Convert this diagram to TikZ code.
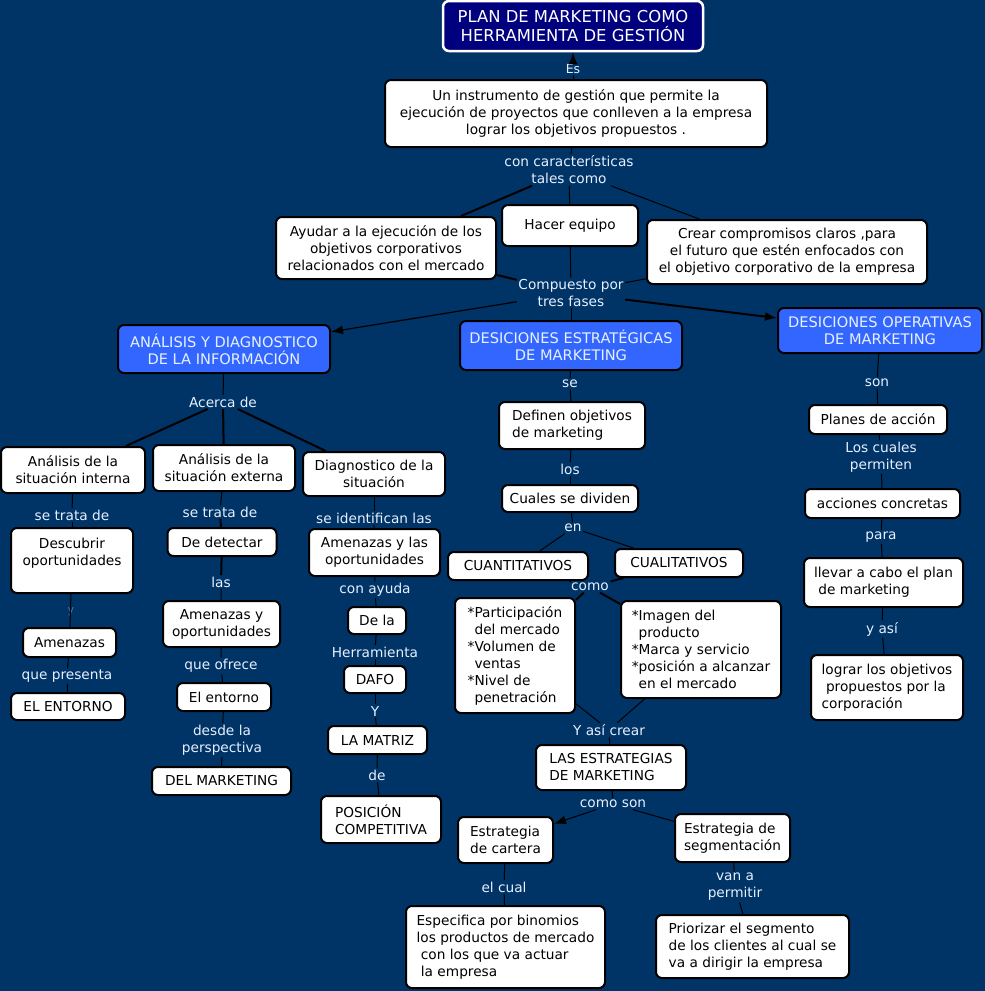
\documentclass[tikz,border=0pt]{standalone}
\usepackage{fontspec}
\setmainfont{DejaVu Sans}
\usetikzlibrary{arrows.meta}
\definecolor{fondo}{HTML}{003366}
\definecolor{azultitulo}{HTML}{00007F}
\definecolor{azulfase}{HTML}{3366FF}
\definecolor{textoclaro}{HTML}{E6F0FF}
\definecolor{tenue}{HTML}{5474A4}
\tikzset{
	concepto/.style={draw=black, line width=2pt, fill=white, rounded corners=6pt, align=center, inner sep=3pt, font=\fontsize{13.7}{17}\selectfont},
	izq/.style={align=left},
	fase/.style={concepto, fill=azulfase, text=textoclaro, font=\fontsize{14.6}{17}\selectfont},
	titulo/.style={concepto, fill=azultitulo, draw=white, line width=2.5pt, text=white, font=\fontsize{16.4}{19}\selectfont},
	enlace/.style={text=textoclaro, align=center, inner sep=1.5pt, font=\fontsize{13.7}{17}\selectfont},
	linea/.style={draw=black, line width=1pt},
	gruesa/.style={draw=black, line width=2pt},
	flecha/.style={-{Latex[length=12pt,width=9pt]}}
}
\begin{document}
\begin{tikzpicture}[x=1pt,y=-1pt]
	\fill [fondo] (0,0) rectangle (985,991);
	\useasboundingbox (0,0) rectangle (985,991);

	\node (plan) [titulo, minimum width=260, minimum height=50] at (573,26) {PLAN DE MARKETING COMO\\HERRAMIENTA DE GESTIÓN};
	\node (es) [enlace, font=\fontsize{12.5}{15}\selectfont] at (573,69) {Es};
	\node (instr) [concepto, minimum width=382, minimum height=67] at (576,113.5) {Un instrumento de gestión que permite la\\ejecución de proyectos que conlleven a la empresa\\lograr los objetivos propuestos .};
	\node (caract) [enlace] at (569,170) {con características\\tales como};
	\node (ayudar) [concepto, minimum width=220, minimum height=62] at (386,248) {Ayudar a la ejecución de los\\objetivos corporativos\\relacionados con el mercado};
	\node (hacer) [concepto, minimum width=136, minimum height=41] at (570,225.5) {Hacer equipo};
	\node (crear) [concepto, minimum width=280, minimum height=64] at (787,252) {Crear compromisos claros ,para\\el futuro que estén enfocados con\\el objetivo corporativo de la empresa};
	\node (compuesto) [enlace] at (571,293) {Compuesto por\\tres fases};

	\node (analisis) [fase, minimum width=212, minimum height=48] at (224,349) {ANÁLISIS Y DIAGNOSTICO\\DE LA INFORMACIÓN};
	\node (estrat) [fase, minimum width=222, minimum height=49] at (571,345.5) {DESICIONES ESTRATÉGICAS\\DE MARKETING};
	\node (operat) [fase, minimum width=204, minimum height=45] at (880,330.5) {DESICIONES OPERATIVAS\\DE MARKETING};

	% analisis y diagnostico
	\node (acerca) [enlace] at (223,402) {Acerca de};
	\node (interna) [concepto, minimum width=144, minimum height=46] at (73,470) {Análisis de la\\situación interna};
	\node (externa) [concepto, minimum width=142, minimum height=46] at (224,468) {Análisis de la\\situación externa};
	\node (diag) [concepto, minimum width=142, minimum height=44] at (374,474) {Diagnostico de la\\situación};

	\node (tratai) [enlace] at (72,515) {se trata de};
	\node (descubrir) [concepto, minimum width=122, minimum height=65] at (72,560.5) {Descubrir\\oportunidades\\\mbox{}};
	\node (yi) [enlace, text=tenue, font=\fontsize{11}{13}\selectfont] at (71,612) {y};
	\node (amenazas) [concepto, minimum width=93, minimum height=29] at (69.5,642.5) {Amenazas};
	\node (presenta) [enlace] at (67,676) {que presenta};
	\node (entornoi) [concepto, minimum width=114, minimum height=27] at (68,706.5) {EL ENTORNO};

	\node (tratae) [enlace] at (220,512) {se trata de};
	\node (detectar) [concepto, minimum width=109, minimum height=28] at (222,542) {De detectar};
	\node (las) [enlace] at (221,582) {las};
	\node (amenop) [concepto, minimum width=117, minimum height=46] at (221.5,624) {Amenazas y\\oportunidades};
	\node (ofrece) [enlace] at (221,666) {que ofrece};
	\node (entornoe) [concepto, minimum width=94, minimum height=28] at (224,697) {El entorno};
	\node (perspectiva) [enlace] at (222,740) {desde la\\perspectiva};
	\node (delmkt) [concepto, minimum width=139, minimum height=28] at (221.5,781) {DEL MARKETING};

	\node (identifican) [enlace] at (374,518) {se identifican las};
	\node (amenlas) [concepto, minimum width=131, minimum height=47] at (374.5,552.5) {Amenazas y las\\oportunidades};
	\node (ayuda) [enlace] at (375,590) {con ayuda};
	\node (dela) [concepto, minimum width=58, minimum height=27] at (377,620.5) {De la};
	\node (herramienta) [enlace] at (375,652) {Herramienta};
	\node (dafo) [concepto, minimum width=62, minimum height=27] at (375,679.5) {DAFO};
	\node (yd) [enlace] at (375,711) {Y};
	\node (matriz) [concepto, minimum width=99, minimum height=28] at (377.5,740) {LA MATRIZ};
	\node (de) [enlace] at (377,775) {de};
	\node (posicion) [concepto, izq, minimum width=120, minimum height=47] at (381,819.5) {POSICIÓN\\COMPETITIVA};

	% estrategicas
	\node (se) [enlace] at (570,384) {se};
	\node (definen) [concepto, izq, minimum width=146, minimum height=47] at (572,425.5) {Definen objetivos\\de marketing};
	\node (los) [enlace] at (570,469) {los};
	\node (dividen) [concepto, minimum width=136, minimum height=27] at (570,498.5) {Cuales se dividen};
	\node (en) [enlace] at (573,528) {en};
	\node (cuanti) [concepto, minimum width=140, minimum height=28] at (518,566) {CUANTITATIVOS};
	\node (cuali) [concepto, minimum width=128, minimum height=28] at (679,563) {CUALITATIVOS};
	\node (como) [enlace] at (590,587) {como};
	\node (particip) [concepto, izq, minimum width=120, minimum height=115] at (515,655.5) {*Participación\\\phantom{*}del mercado\\*Volumen de\\\phantom{*}ventas\\*Nivel de\\\phantom{*}penetración};
	\node (imagen) [concepto, izq, minimum width=160, minimum height=97] at (701,649.5) {*Imagen del\\\phantom{*}producto\\*Marca y servicio\\*posición a alcanzar\\\phantom{*}en el mercado};
	\node (asicrear) [enlace] at (609,730) {Y así crear};
	\node (estrategias) [concepto, izq, minimum width=150, minimum height=45] at (611,767.5) {LAS ESTRATEGIAS\\DE MARKETING};
	\node (comoson) [enlace] at (613,804) {como son};
	\node (cartera) [concepto, izq, minimum width=95, minimum height=46] at (505.5,840) {Estrategia\\de cartera};
	\node (segment) [concepto, izq, minimum width=115, minimum height=48] at (732.5,838) {Estrategia de\\segmentación};
	\node (elcual) [enlace] at (504,887) {el cual};
	\node (especifica) [concepto, izq, minimum width=199, minimum height=82] at (505.5,947) {Especifica por binomios\\los productos de mercado\\\ con los que va actuar\\\ la empresa};
	\node (vana) [enlace] at (735,887) {van a\\permitir};
	\node (priorizar) [concepto, izq, minimum width=193, minimum height=63] at (752.5,946.5) {Priorizar el segmento\\de los clientes al cual se\\va a dirigir la empresa};

	% operativas
	\node (son) [enlace] at (877,383) {son};
	\node (planes) [concepto, minimum width=138, minimum height=29] at (878,419.5) {Planes de acción};
	\node (loscuales) [enlace] at (881,457) {Los cuales\\permiten};
	\node (acciones) [concepto, minimum width=155, minimum height=29] at (882.5,503.5) {acciones concretas};
	\node (para) [enlace] at (881,537) {para};
	\node (llevar) [concepto, izq, minimum width=159, minimum height=49] at (883.5,582.5) {llevar a cabo el plan\\\ de marketing};
	\node (yasi) [enlace] at (882,629) {y así};
	\node (lograr) [concepto, izq, minimum width=152, minimum height=65] at (887,687.5) {lograr los objetivos\\\ propuestos por la\\corporación};

	\draw [linea] (instr) to (es);
	\draw [linea, flecha] (es) to (plan);
	\draw [linea] (instr) to (caract);
	\draw [gruesa] (caract) to (ayudar);
	\draw [linea] (caract) to (hacer);
	\draw [linea] (caract) to (crear);
	\draw [gruesa] (ayudar) to (compuesto);
	\draw [linea] (hacer) to (compuesto);
	\draw [linea] (crear) to (compuesto);
	\draw [linea, line width=1.2pt, flecha] (compuesto) to (analisis);
	\draw [linea] (compuesto) to (estrat);
	\draw [gruesa, flecha] (compuesto) to (operat);

	\draw [linea] (analisis) to (acerca);
	\draw [gruesa] (acerca) to (interna);
	\draw [gruesa] (acerca) to (externa);
	\draw [gruesa] (acerca) to (diag);
	\draw [linea] (interna) to (tratai);
	\draw [linea] (tratai) to (descubrir);
	\draw [linea] (descubrir) to (amenazas);
	\draw [linea] (amenazas) to (presenta);
	\draw [linea] (presenta) to (entornoi);
	\draw [linea] (externa) to (tratae);
	\draw [gruesa] (tratae) to (detectar);
	\draw [gruesa] (detectar) to (las);
	\draw [linea] (las) to (amenop);
	\draw [linea] (amenop) to (ofrece);
	\draw [linea] (ofrece) to (entornoe);
	\draw [linea] (entornoe) to (perspectiva);
	\draw [linea] (perspectiva) to (delmkt);
	\draw [linea] (diag) to (identifican);
	\draw [linea] (identifican) to (amenlas);
	\draw [linea] (amenlas) to (ayuda);
	\draw [linea] (ayuda) to (dela);
	\draw [linea] (dela) to (herramienta);
	\draw [linea] (herramienta) to (dafo);
	\draw [linea] (dafo) to (yd);
	\draw [linea] (yd) to (matriz);
	\draw [linea] (matriz) to (de);
	\draw [linea] (de) to (posicion);

	\draw [linea] (estrat) to (se);
	\draw [linea] (se) to (definen);
	\draw [linea] (definen) to (los);
	\draw [linea] (los) to (dividen);
	\draw [linea] (dividen) to (en);
	\draw [linea] (en) to (cuanti);
	\draw [linea] (en) to (cuali);
	\draw [gruesa] (cuanti) to (como);
	\draw [gruesa] (cuali) to (como);
	\draw [gruesa] (como) to (particip);
	\draw [gruesa] (como) to (imagen);
	\draw [linea] (particip) to (asicrear);
	\draw [linea] (imagen) to (asicrear);
	\draw [linea] (asicrear) to (estrategias);
	\draw [linea] (estrategias) to (comoson);
	\draw [linea, flecha] (comoson) to (cartera);
	\draw [linea] (comoson) to (segment);
	\draw [linea] (cartera) to (elcual);
	\draw [linea] (elcual) to (especifica);
	\draw [linea] (segment) to (vana);
	\draw [linea] (vana) to (priorizar);

	\draw [linea] (operat) to (son);
	\draw [linea] (son) to (planes);
	\draw [linea] (planes) to (loscuales);
	\draw [linea] (loscuales) to (acciones);
	\draw [linea] (acciones) to (para);
	\draw [linea] (para) to (llevar);
	\draw [linea] (llevar) to (yasi);
	\draw [linea] (yasi) to (lograr);
\end{tikzpicture}
\end{document}
